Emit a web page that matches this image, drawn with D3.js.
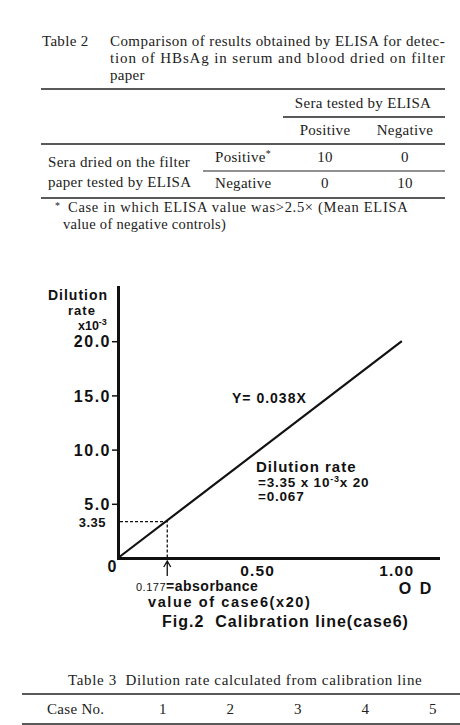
<!DOCTYPE html>
<html>
<head>
<meta charset="utf-8">
<script src="https://cdn.jsdelivr.net/npm/d3@7"></script>
<style>
  body { margin: 0; background: #fff; }
</style>
</head>
<body>
<div id="grafica"></div>
<script>
// Tabla 2
titulo_t2  = ['Table 2', 'Comparison of results obtained by ELISA for detec-', 'tion of HBsAg in serum and blood dried on filter', 'paper']
encabezado = 'Sera tested by ELISA'
columnas   = ['Positive', 'Negative']
filas      = ['Positive', 'Negative']
grupo_fila = ['Sera dried on the filter', 'paper tested by ELISA']
valores_t2 = [[10, 0], [0, 10]]
nota_t2    = ['Case in which ELISA value was>2.5× (Mean ELISA', 'value of negative controls)']

// Fig.2
ticks_y   = [5, 10, 15, 20]
ticks_x   = [0.5, 1.0]
recta_x   = [0, 1.02]
recta_y   = [0, 20]
caso6_od  = 0.177
caso6_dil = 3.35

// Tabla 3
titulo_t3 = 'Table 3  Dilution rate calculated from calibration line'
casos     = [1, 2, 3, 4, 5]

ancho_total = 460
alto_total  = 725

serif = '"Liberation Serif", "Times New Roman", serif'
sans  = '"Liberation Sans", Arial, Helvetica, sans-serif'

svg = d3
        .select('#grafica')
        .append('svg')
        .attr('width', ancho_total)
        .attr('height', alto_total)
        .style('display', 'block')

function regla(g, x1, x2, yy, w) {
  g.append('line')
    .attr('x1', x1)
    .attr('x2', x2)
    .attr('y1', yy)
    .attr('y2', yy)
    .attr('stroke', '#222')
    .attr('stroke-width', w)
}

// ---------- Tabla 2 ----------
t2 = svg
       .append('g')
       .attr('font-family', serif)
       .attr('font-size', '15px')
       .attr('letter-spacing', '0.3px')
       .attr('fill', '#222')

t2.append('text').attr('x', 42).attr('y', 46).text(titulo_t2[0])
titulo_t2.slice(1).forEach((l, i) => {
  t = t2.append('text')
        .attr('x', 110)
        .attr('y', 46 + i * 17)
        .text(l)
  if (i < 2) t.attr('textLength', 335).attr('lengthAdjust', 'spacing')
})

regla(t2, 41, 445, 89, 1.6)
regla(t2, 283, 445, 117, 1.4)
regla(t2, 41, 445, 144, 1.4)
regla(t2, 203, 445, 171, 1.1)
regla(t2, 41, 445, 198, 1.6)

colX = d3.scalePoint().domain(columnas).range([325, 405])
filaY = d3.scalePoint().domain(d3.range(filas.length)).range([162, 188])

t2.append('text')
  .attr('x', (colX.range()[0] + colX.range()[1]) / 2 - 2)
  .attr('y', 108)
  .attr('text-anchor', 'middle')
  .text(encabezado)

columnas.forEach((c) => {
  t2.append('text')
    .attr('x', colX(c))
    .attr('y', 135)
    .attr('text-anchor', 'middle')
    .text(c)
})

grupo_fila.forEach((l, i) => {
  t2.append('text')
    .attr('x', 48)
    .attr('y', 167 + i * 20)
    .text(l)
})

filas.forEach((f, i) => {
  ft = t2.append('text')
         .attr('x', 215)
         .attr('y', filaY(i))
  ft.append('tspan').text(f)
  if (i == 0) ft.append('tspan').attr('font-size', '10px').attr('dy', -5).text('*')
})

valores_t2.forEach((fila, i) => {
  fila.forEach((v, j) => {
    t2.append('text')
      .attr('x', colX(columnas[j]))
      .attr('y', filaY(i))
      .attr('text-anchor', 'middle')
      .text(v)
  })
})

t2.append('text').attr('x', 55).attr('y', 209).attr('font-size', '10px').text('*')
t2.append('text')
  .attr('x', 68)
  .attr('y', 212)
  .attr('font-size', '14.5px')
  .attr('textLength', 340)
  .attr('lengthAdjust', 'spacing')
  .text(nota_t2[0])
t2.append('text')
  .attr('x', 63)
  .attr('y', 229)
  .attr('font-size', '14.5px')
  .text(nota_t2[1])

// ---------- Fig.2 ----------
x = d3.scaleLinear().domain([0, 1.15]).range([118, 438])
y = d3.scaleLinear().domain([0, 25]).range([558, 287])

g = svg
      .append('g')
      .attr('font-family', sans)
      .attr('font-weight', 'bold')
      .attr('fill', '#111')

yAxisCall = d3
              .axisLeft(y)
              .tickValues(ticks_y)
              .tickSize(6)
              .tickSizeOuter(0)
              .tickPadding(1)
              .tickFormat(d3.format('.1f'))
yGroup = g
           .append('g')
           .attr('transform', `translate(${x(0)}, 0)`)
           .call(yAxisCall)
yGroup.attr('font-family', sans).attr('font-size', '16px').attr('font-weight', 'bold')
yGroup.select('.domain').attr('stroke', '#111').attr('stroke-width', 3).attr('stroke-linecap', 'square')
yGroup.selectAll('.tick line').attr('stroke', '#111').attr('stroke-width', 1.5)
yGroup.selectAll('.tick text').attr('fill', '#111').attr('letter-spacing', '1.5px').attr('dy', '0.36em')

xAxisCall = d3
              .axisBottom(x)
              .tickValues(ticks_x)
              .tickSize(0)
              .tickSizeOuter(0)
              .tickPadding(7)
              .tickFormat(d3.format('.2f'))
xGroup = g
           .append('g')
           .attr('transform', `translate(0, ${y(0)})`)
           .call(xAxisCall)
xGroup.attr('font-family', sans).attr('font-size', '15.5px').attr('font-weight', 'bold')
xGroup.select('.domain').attr('stroke', '#111').attr('stroke-width', 3).attr('stroke-linecap', 'square')
xGroup.selectAll('.tick text').attr('fill', '#111').attr('letter-spacing', '1.2px')

g.append('text')
  .attr('x', x(0) - 6)
  .attr('y', y(0) + 14)
  .attr('text-anchor', 'middle')
  .attr('font-size', '16px')
  .text('0')

// recta de calibracion
linea = d3.line()
g.append('path')
  .attr('d', linea(recta_x.map((v, i) => [x(v), y(recta_y[i])])))
  .attr('fill', 'none')
  .attr('stroke', '#111')
  .attr('stroke-width', 2.2)

// caso 6
g.append('path')
  .attr('d', linea([[x(0) + 2, y(caso6_dil)], [x(caso6_od), y(caso6_dil)], [x(caso6_od), y(0) - 1]]))
  .attr('fill', 'none')
  .attr('stroke', '#111')
  .attr('stroke-width', 1.3)
  .attr('stroke-dasharray', '3,2')

g.append('text')
  .attr('x', x(0) - 12)
  .attr('y', y(caso6_dil) + 5)
  .attr('text-anchor', 'end')
  .attr('font-size', '13px')
  .attr('letter-spacing', '0.5px')
  .text(caso6_dil.toFixed(2))

flecha = g.append('g').attr('transform', `translate(${x(caso6_od)}, ${y(0)})`)
flecha.append('path')
  .attr('d', 'M0,3V18M-3.5,9L0,3L3.5,9')
  .attr('fill', 'none')
  .attr('stroke', '#111')
  .attr('stroke-width', 1.3)

// titulo del eje y
g.append('text').attr('x', 78).attr('y', 300).attr('text-anchor', 'middle')
  .attr('font-size', '14px').attr('letter-spacing', '1px').text('Dilution')
g.append('text').attr('x', 82).attr('y', 315).attr('text-anchor', 'middle')
  .attr('font-size', '13px').attr('letter-spacing', '1px').text('rate')
ex = g.append('text').attr('x', 78).attr('y', 330).attr('font-size', '12.5px')
ex.append('tspan').text('x10')
ex.append('tspan').attr('font-size', '9px').attr('dy', -5).text('-3')

// anotaciones
g.append('text')
  .attr('x', 232)
  .attr('y', 403)
  .attr('font-size', '14px')
  .attr('letter-spacing', '1px')
  .text('Y= 0.038X')

g.append('text')
  .attr('x', 256)
  .attr('y', 472)
  .attr('font-size', '15px')
  .attr('letter-spacing', '1px')
  .text('Dilution rate')

d1 = g.append('text').attr('x', 258).attr('y', 487).attr('font-size', '13.5px').attr('letter-spacing', '0.8px')
d1.append('tspan').text('=3.35 x 10')
d1.append('tspan').attr('font-size', '9px').attr('dy', -5).text('-3')
d1.append('tspan').attr('dy', 5).text('x 20')

g.append('text')
  .attr('x', 258)
  .attr('y', 501)
  .attr('font-size', '13.5px')
  .attr('letter-spacing', '0.8px')
  .text('=0.067')

ab = g.append('text').attr('x', 136).attr('y', 591).attr('letter-spacing', '0.5px')
ab.append('tspan').attr('font-size', '11px').attr('font-weight', 'normal').text('0.177')
ab.append('tspan').attr('font-size', '14px').text('=absorbance')

g.append('text')
  .attr('x', 148)
  .attr('y', 607)
  .attr('font-size', '14.5px')
  .attr('letter-spacing', '1.6px')
  .text('value of case6(x20)')

g.append('text')
  .attr('x', 416)
  .attr('y', 594)
  .attr('text-anchor', 'middle')
  .attr('font-size', '16px')
  .attr('letter-spacing', '2px')
  .text('O D')

g.append('text')
  .attr('x', 162)
  .attr('y', 627)
  .attr('font-size', '16px')
  .attr('letter-spacing', '1px')
  .style('white-space', 'pre')
  .text('Fig.2  Calibration line(case6)')

// ---------- Tabla 3 ----------
t3 = svg
       .append('g')
       .attr('font-family', serif)
       .attr('font-size', '15px')
       .attr('letter-spacing', '0.3px')
       .attr('fill', '#222')

t3.append('text')
  .attr('x', 68)
  .attr('y', 685)
  .attr('textLength', 354)
  .attr('lengthAdjust', 'spacing')
  .style('white-space', 'pre')
  .text(titulo_t3)

regla(t3, 22, 460, 694, 1.6)
regla(t3, 22, 460, 724, 1.6)

casoX = d3.scalePoint().domain(casos).range([163, 433])

t3.append('text').attr('x', 47).attr('y', 714).text('Case No.')
casos.forEach((c) => {
  t3.append('text')
    .attr('x', casoX(c))
    .attr('y', 714)
    .attr('text-anchor', 'middle')
    .text(c)
})
</script>
</body>
</html>
